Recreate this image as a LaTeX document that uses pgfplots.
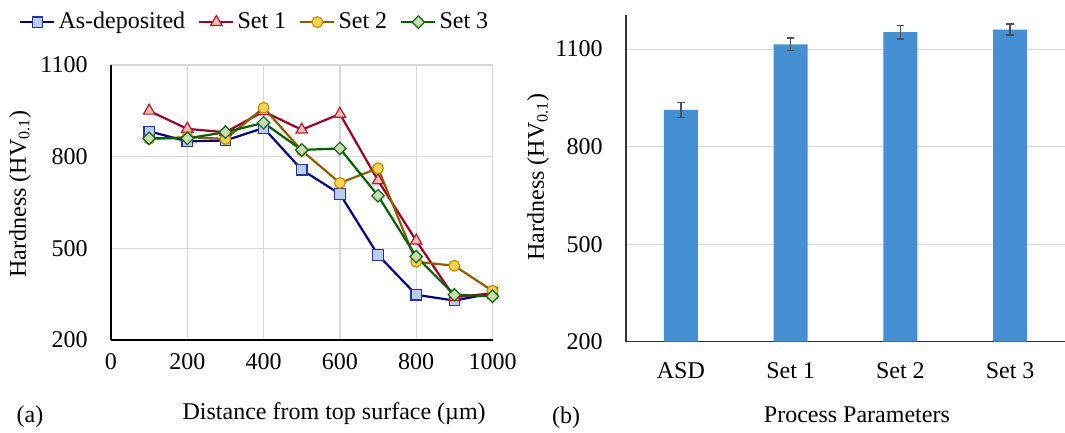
\documentclass[border=0pt]{standalone}
\usepackage{pgfplots}
\pgfplotsset{compat=1.18}
\usepackage{fontspec}
\setmainfont{Liberation Serif}
\definecolor{adline}{RGB}{0,0,140}
\definecolor{adfill}{RGB}{183,207,235}
\definecolor{adedge}{RGB}{40,50,170}
\definecolor{s1line}{RGB}{160,0,48}
\definecolor{s1fill}{RGB}{250,190,170}
\definecolor{s1edge}{RGB}{190,20,60}
\definecolor{s2line}{RGB}{140,96,0}
\definecolor{s2fill}{RGB}{255,210,80}
\definecolor{s2edge}{RGB}{190,145,0}
\definecolor{s3line}{RGB}{0,100,0}
\definecolor{s3fill}{RGB}{196,222,176}
\definecolor{s3edge}{RGB}{20,100,20}
\definecolor{barblue}{RGB}{69,144,210}
\definecolor{errgray}{RGB}{80,80,80}
\pgfplotsset{
  every axis/.append style={font=\fontsize{12}{14}\selectfont},
  /pgf/number format/assume math mode=true,
  /pgf/number format/1000 sep={},
}
\begin{document}
\fontsize{12}{14}\selectfont
\begin{tikzpicture}
\path[use as bounding box] (0,0) rectangle (532.5pt,216.5pt);
\begin{axis}[
  at={(55.5pt,46.5pt)}, anchor=south west,
  scale only axis, width=190.75pt, height=137.5pt,
  xmin=0, xmax=1000, ymin=200, ymax=1100,
  xtick={0,200,400,600,800,1000},
  ytick={200,500,800,1100},
  xmajorgrids, ymajorgrids,
  grid style={gray!30, line width=0.6pt},
  axis x line*=bottom, axis y line*=left,
  x axis line style={-}, y axis line style={-},
  axis line style={black, line width=0.7pt},
  major tick length=0pt,
  yticklabel style={xshift=-7.5pt},
  xticklabel style={yshift=-2.5pt},
  xlabel={Distance from top surface (µm)},
  ylabel={Hardness (HV\textsubscript{0.1})},
  xlabel style={at={(axis description cs:0.585,-0.269)}, anchor=center},
  ylabel style={at={(axis description cs:-0.2385,0.531)}, anchor=center},
  legend style={at={(axis description cs:0.378,1.156)}, anchor=center,
    legend columns=4, draw=none, fill=none, inner sep=0pt,
    nodes={inner sep=1.5pt},
    /tikz/every even column/.append style={column sep=5pt}},
  clip=false,
]
\addplot[color=adline, line width=1.1pt, mark=square*, mark size=2.6pt,
  mark options={fill=adfill, draw=adedge, line width=0.6pt}]
  coordinates {(100,883)(200,850)(300,853)(400,894)(500,757)(600,678)(700,478)(800,348)(900,329)(1000,353)};
\addlegendentry{As-deposited}
\addplot[color=s1line, line width=1.1pt, mark=triangle*, mark size=3.3pt,
  mark options={fill=s1fill, draw=s1edge, line width=0.6pt}]
  coordinates {(100,950)(200,891)(300,880)(400,948)(500,888)(600,940)(700,722)(800,525)(900,340)(1000,353)};
\addlegendentry{Set 1}
\addplot[color=s2line, line width=1.1pt, mark=*, mark size=2.7pt,
  mark options={fill=s2fill, draw=s2edge, line width=0.6pt}]
  coordinates {(100,858)(200,864)(300,858)(400,960)(500,820)(600,714)(700,762)(800,456)(900,443)(1000,361)};
\addlegendentry{Set 2}
\addplot[color=s3line, line width=1.1pt, mark=square*, mark size=2.2pt,
  mark options={rotate=45, fill=s3fill, draw=s3edge, line width=0.6pt}]
  coordinates {(100,860)(200,860)(300,880)(400,911)(500,822)(600,827)(700,672)(800,473)(900,348)(1000,343)};
\addlegendentry{Set 3}
\end{axis}
\begin{axis}[
  at={(313pt,45.65pt)}, anchor=south west,
  scale only axis, width=219.5pt, height=163.35pt,
  xmin=-0.5, xmax=3.5, ymin=200, ymax=1205,
  xtick={0,1,2,3}, xticklabels={ASD,Set 1,Set 2,Set 3},
  ytick={200,500,800,1100},
  ymajorgrids,
  grid style={gray!30, line width=0.6pt},
  axis x line*=bottom, axis y line*=left,
  x axis line style={-}, y axis line style={-},
  axis line style={black!80, line width=0.7pt},
  major tick length=0pt,
  yticklabel style={xshift=-7.5pt},
  xticklabel style={yshift=-6.5pt},
  xlabel={Process Parameters},
  ylabel={Hardness (HV\textsubscript{0.1})},
  xlabel style={at={(axis description cs:0.526,-0.224)}, anchor=center},
  ylabel style={at={(axis description cs:-0.2,0.504)}, anchor=center},
  ybar, bar width=17pt,
]
\addplot[fill=barblue, draw=none,
  error bars/.cd, y dir=both, y explicit,
  error bar style={color=errgray, line width=0.7pt},
  error mark options={rotate=90, mark size=1.9pt, color=errgray, line width=0.7pt}]
  coordinates {(0,913) +- (0,23) (1,1115) +- (0,19) (2,1152) +- (0,21) (3,1160) +- (0,17)};
\end{axis}
\node at (15pt,8pt) {(a)};
\node at (283pt,7.5pt) {(b)};
\end{tikzpicture}
\end{document}
